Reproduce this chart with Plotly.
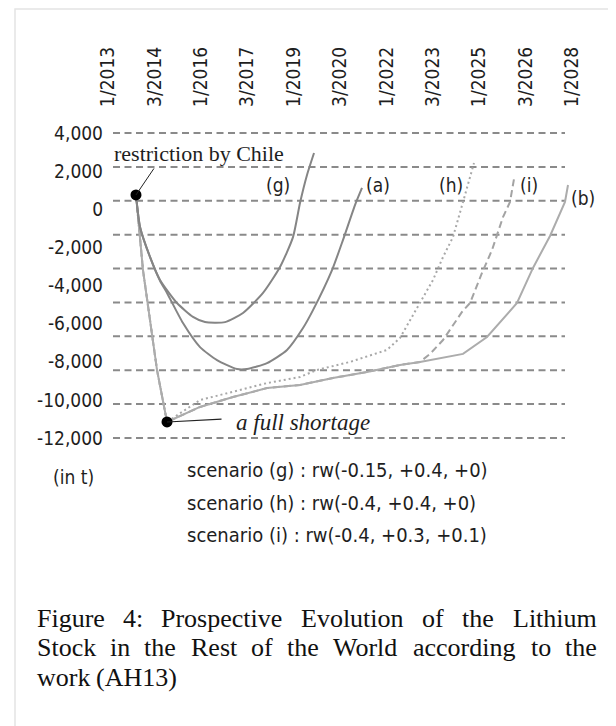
import plotly.graph_objects as go

# ---------------- data ----------------
x_tick_labels = ["1/2013", "3/2014", "1/2016", "3/2017", "1/2019", "3/2020",
                 "1/2022", "3/2023", "1/2025", "3/2026", "1/2028"]
x_tick_pos = list(range(len(x_tick_labels)))

y_tick_vals = [4000, 2000, 0, -2000, -4000, -6000, -8000, -10000, -12000]
y_tick_text = ["4,000", "2,000", "0", "-2,000", "-4,000", "-6,000", "-8,000", "-10,000", "-12,000"]

# scenario (g)
g_x = [0.603, 0.690, 0.905, 1.121, 1.487, 1.832, 2.091, 2.522, 2.909, 3.341, 3.707, 3.987, 4.138, 4.289, 4.440]
g_y = [750, -930, -2500, -3710, -4920, -5650, -5920, -5920, -5440, -4390, -3030, -1460, 330, 1800, 2950]

# scenario (a)
a_x = [0.603, 0.690, 0.905, 1.121, 1.272, 1.616, 1.983, 2.349, 2.780, 2.996, 3.427, 3.858, 4.203, 4.418, 4.828, 5.065, 5.323, 5.474]
a_y = [750, -930, -2500, -3750, -4390, -5970, -7230, -7910, -8380, -8380, -8070, -7380, -6230, -5290, -3190, -1610, 220, 1120]

# scenario (b)
b_x = [0.603, 0.754, 1.056, 1.272, 1.983, 2.694, 3.427, 4.138, 4.849, 5.582, 6.293, 6.724, 7.651, 8.168, 8.815, 9.159, 9.526, 9.849, 9.914]
b_y = [750, -3190, -8430, -11160, -10370, -9850, -9380, -9220, -8850, -8540, -8170, -8010, -7590, -6700, -4920, -3080, -1400, 380, 1270]

# scenario (h)
h_x = [0.603, 0.754, 1.056, 1.272, 1.983, 2.694, 3.427, 4.138, 4.504, 5.216, 6.013, 6.293, 6.724, 7.004, 7.220, 7.435, 7.651, 7.888]
h_y = [750, -3190, -8430, -11160, -10010, -9590, -9120, -8800, -8430, -8010, -7380, -6750, -4920, -3710, -2510, -1460, 380, 2430]

# scenario (i)
i_x = [0.603, 0.754, 1.056, 1.272, 1.983, 2.694, 3.427, 4.138, 4.849, 5.582, 6.293, 6.724, 6.940, 7.220, 7.629, 7.802, 8.060, 8.276, 8.513, 8.664, 8.750]
i_y = [750, -3190, -8430, -11160, -10370, -9850, -9380, -9220, -8850, -8540, -8170, -8010, -7590, -6860, -5390, -4920, -3340, -2140, -410, 380, 1590]

# key events
event_x = [0.603, 1.272]
event_y = [750, -11160]

scenario_lines = ["scenario (g) : rw(-0.15, +0.4, +0)",
                  "scenario (h) : rw(-0.4, +0.4, +0)",
                  "scenario (i) : rw(-0.4, +0.3, +0.1)"]

caption_words = [
    ["Figure", "4:", "Prospective", "Evolution", "of", "the", "Lithium"],
    ["Stock", "in", "the", "Rest", "of", "the", "World", "according", "to", "the"],
    ["work", "(AH13)"],
]
caption_word_px = [
    [35, 121, 159, 299, 420, 460, 511],
    [35, 108, 142, 189, 249, 285, 331, 411, 529, 563],
    [35, 94],
]

# ---------------- layout constants (page pixel coordinates) ----------------
OFF = 8                      # default page margin around the plot div
W, H = 616 - OFF, 726 - OFF
PL, PR, PT, PB = 104, 606, 108, 450   # plot area in page pixels
ML, MR, MT, MB = PL - OFF, W - (PR - OFF), PT - OFF, H - (PB - OFF)
PW = PR - PL
PH = PB - PT

SANS = "DejaVu Sans Condensed, DejaVu Sans, Liberation Sans, sans-serif"
SERIF = "Liberation Serif, Times New Roman, serif"
TXT = "#1e1e1e"


def px_x(px):
    return (px - PL) / PW


def px_y(py):
    return (PB - py) / PH


fig = go.Figure()

line_styles = [
    ("(i)", i_x, i_y, dict(color="#a3a3a3", width=2, dash="7px,4px")),
    ("(h)", h_x, h_y, dict(color="#a8a8a8", width=2, dash="2px,3px")),
    ("(b)", b_x, b_y, dict(color="#acacac", width=2)),
    ("(a)", a_x, a_y, dict(color="#858585", width=2, shape="spline", smoothing=0.6)),
    ("(g)", g_x, g_y, dict(color="#858585", width=2, shape="spline", smoothing=0.6)),
]
for name, xs, ys, ln in line_styles:
    fig.add_trace(go.Scatter(x=xs, y=ys, mode="lines", line=ln, name=name,
                             showlegend=False, hoverinfo="skip"))

fig.add_trace(go.Scatter(x=event_x, y=event_y, mode="markers",
                         marker=dict(color="black", size=11),
                         showlegend=False, hoverinfo="skip"))

# dashed horizontal guide lines (9 equal intervals between 4,000 and -12,000)
n_grid = 9
for k in range(n_grid + 1):
    yv = y_tick_vals[0] - k * (y_tick_vals[0] - y_tick_vals[-1]) / n_grid
    fig.add_shape(type="line", xref="x", yref="y", x0=0.108, x1=9.849, y0=yv, y1=yv,
                  line=dict(color="#8a8a8a", width=2, dash="7px,4.5px"), layer="below")

# outer light frame
fig.add_shape(type="rect", xref="paper", yref="paper",
              x0=px_x(15), x1=px_x(660), y0=px_y(9), y1=px_y(760),
              line=dict(color="#e4e4e4", width=1.5), layer="below")

ann = []
# series labels
series_labels = [("(g)", 3.664, 1272), ("(a)", 5.819, 1272), ("(h)", 7.392, 1272),
                 ("(i)", 9.073, 1272), ("(b)", 10.237, 590)]
for t, xv, yv in series_labels:
    ann.append(dict(x=xv, y=yv, xref="x", yref="y", text=t, showarrow=False,
                    xanchor="center", yanchor="middle",
                    font=dict(family=SANS, size=19, color=TXT)))

# pointers
ann.append(dict(x=event_x[0], y=event_y[0], xref="x", yref="y", text="", showarrow=True,
                arrowhead=0, arrowwidth=1, arrowcolor="#222", ax=19, ay=-28, standoff=0))
ann.append(dict(x=event_x[1], y=event_y[1], xref="x", yref="y", text="", showarrow=True,
                arrowhead=0, arrowwidth=1.2, arrowcolor="#222", ax=56, ay=-3, standoff=0))
ann.append(dict(x=px_x(199), y=px_y(153), xref="paper", yref="paper", text="restriction by Chile",
                showarrow=False, xanchor="center", yanchor="middle",
                font=dict(family=SERIF, size=22, color=TXT)))
ann.append(dict(x=px_x(234), y=px_y(422), xref="paper", yref="paper", text="<i>a full shortage</i>",
                showarrow=False, xanchor="left", yanchor="middle",
                font=dict(family=SERIF, size=23, color=TXT)))

# unit label & scenario legend
ann.append(dict(x=px_x(73), y=px_y(477), xref="paper", yref="paper", text="(in t)",
                showarrow=False, xanchor="center", yanchor="middle",
                font=dict(family=SANS, size=19, color=TXT)))
for k, s in enumerate(scenario_lines):
    ann.append(dict(x=px_x(185), y=px_y(470 + 32.5 * k), xref="paper", yref="paper", text=s,
                    showarrow=False, xanchor="left", yanchor="middle",
                    font=dict(family=SANS, size=20, color=TXT)))

# caption (justified by word placement)
caption_y = [618, 647, 677]
for words, xs, yy in zip(caption_words, caption_word_px, caption_y):
    for w, xw in zip(words, xs):
        ann.append(dict(x=px_x(xw), y=px_y(yy), xref="paper", yref="paper", text=w,
                        showarrow=False, xanchor="left", yanchor="middle",
                        font=dict(family=SERIF, size=26, color="#111")))

fig.update_layout(
    template="none",
    width=W, height=H,
    margin=dict(l=ML, r=MR, t=MT, b=MB, pad=0, autoexpand=False),
    paper_bgcolor="white", plot_bgcolor="white",
    annotations=ann,
    xaxis=dict(range=[(PL - 108) / 46.4, (PR - 108) / 46.4], side="top",
               tickvals=x_tick_pos, ticktext=x_tick_labels, tickangle=-90,
               showgrid=False, zeroline=False, showline=False, ticks="", automargin=False,
               tickfont=dict(family=SANS, size=19, color=TXT)),
    yaxis=dict(range=[4000 - (PB - 133) * 52.46, 4000 + (133 - PT) * 52.46],
               tickvals=y_tick_vals, ticktext=y_tick_text,
               showgrid=False, zeroline=False, showline=False, ticks="", automargin=False,
               tickfont=dict(family=SANS, size=19, color=TXT)),
)

fig.write_html("out.html")
